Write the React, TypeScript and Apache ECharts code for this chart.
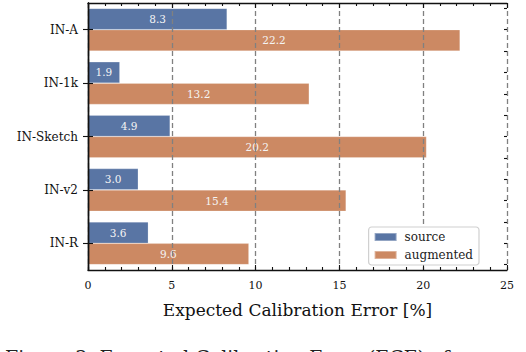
import React, { useEffect, useRef } from "react";
import * as echarts from "echarts";

const categories = ["IN-A", "IN-1k", "IN-Sketch", "IN-v2", "IN-R"];
const sourceValues = [8.3, 1.9, 4.9, 3.0, 3.6];
const augmentedValues = [22.2, 13.2, 20.2, 15.4, 9.6];
const seriesNames = ["source", "augmented"];
const xTicks = [0, 5, 10, 15, 20, 25];
const axisTitle = "Expected Calibration Error [%]";
const caption = "Figure 3: Expected Calibration Error (ECE) of";

const FONT = "DejaVu Serif";
const BLUE = "#5975a4";
const ORANGE = "#cc8963";

export default function App() {
  const ref = useRef<HTMLDivElement>(null);
  useEffect(() => {
    if (!ref.current) return;
    const chart = echarts.init(ref.current, null, { renderer: "svg" });
    const minorCats = Array.from({ length: categories.length * 5 }, (_, i) => String(i));
    const xMin = xTicks[0];
    const xMax = xTicks[xTicks.length - 1];
    const xInterval = xTicks[1] - xTicks[0];
    const tickStyle = { color: "#111", width: 1.1 };
    const baseX = {
      type: "value",
      min: xMin,
      max: xMax,
      interval: xInterval,
      axisLine: { show: true, onZero: false, lineStyle: { color: "#111", width: 1.4 } },
      axisTick: { show: true, inside: true, length: 5, lineStyle: tickStyle },
      minorTick: { show: true, splitNumber: 5, length: 3, lineStyle: tickStyle },
      z: 3,
    };
    const baseYMajor = {
      type: "category",
      data: categories,
      inverse: true,
      axisLine: { show: true, lineStyle: { color: "#111", width: 1.4 } },
      axisTick: { show: true, inside: true, alignWithLabel: true, length: 5, lineStyle: tickStyle },
      z: 3,
    };
    const baseYMinor = {
      type: "category",
      data: minorCats,
      inverse: true,
      axisLine: { show: false },
      axisLabel: { show: false },
      axisTick: { show: true, inside: true, alignWithLabel: true, length: 3, lineStyle: tickStyle },
      z: 3,
    };
    const barLabel = {
      show: true,
      position: "inside",
      color: "#f4f4f4",
      fontFamily: FONT,
      fontSize: 10.5,
      formatter: (p: any) => Number(p.value).toFixed(1),
    };
    chart.setOption({
      animation: false,
      backgroundColor: "#ffffff",
      grid: { left: 88, right: 19, top: 3, bottom: 82 },
      legend: {
        data: seriesNames,
        orient: "vertical",
        right: 47,
        top: 227,
        itemWidth: 22,
        itemHeight: 8,
        itemGap: 6,
        padding: [4, 6, 4, 5],
        borderColor: "#d0d0d0",
        borderWidth: 1.2,
        borderRadius: 3,
        backgroundColor: "#ffffff",
        icon: "rect",
        textStyle: { fontFamily: FONT, fontSize: 12, color: "#222", padding: [0, 0, 0, 3] },
        z: 10,
      },
      xAxis: [
        {
          ...baseX,
          position: "bottom",
          name: axisTitle,
          nameLocation: "middle",
          nameGap: 31,
          nameTextStyle: { fontFamily: FONT, fontSize: 17, color: "#111" },
          axisLabel: { show: true, margin: 10, fontFamily: FONT, fontSize: 11, color: "#111" },
          splitLine: { show: true, lineStyle: { color: "#808080", type: [5, 3], width: 1.3 } },
        },
        {
          ...baseX,
          position: "top",
          axisLabel: { show: false },
          splitLine: { show: false },
        },
      ],
      yAxis: [
        {
          ...baseYMajor,
          position: "left",
          axisLabel: { show: true, margin: 10, fontFamily: FONT, fontSize: 12, color: "#111" },
        },
        { ...baseYMajor, position: "right", axisLabel: { show: false } },
        { ...baseYMinor, position: "right" },
      ],
      series: [
        {
          name: seriesNames[0],
          type: "bar",
          data: sourceValues,
          barGap: "0%",
          barCategoryGap: "20%",
          itemStyle: { color: BLUE, borderColor: "rgba(255,255,255,0.35)", borderWidth: 0.6 },
          label: barLabel,
          z: 2,
        },
        {
          name: seriesNames[1],
          type: "bar",
          data: augmentedValues,
          barGap: "0%",
          barCategoryGap: "20%",
          itemStyle: { color: ORANGE, borderColor: "rgba(255,255,255,0.35)", borderWidth: 0.6 },
          label: barLabel,
          z: 2,
        },
      ],
      graphic: [
        {
          type: "text",
          x: 5,
          y: 347,
          style: {
            text: caption,
            fontFamily: FONT,
            fontSize: 19,
            fill: "#222",
            verticalAlign: "top",
          },
        },
      ],
    });
    return () => chart.dispose();
  }, []);
  return (
    <div
      ref={ref}
      style={{ position: "absolute", left: 0, top: 0, width: 526, height: 352 }}
    />
  );
}
